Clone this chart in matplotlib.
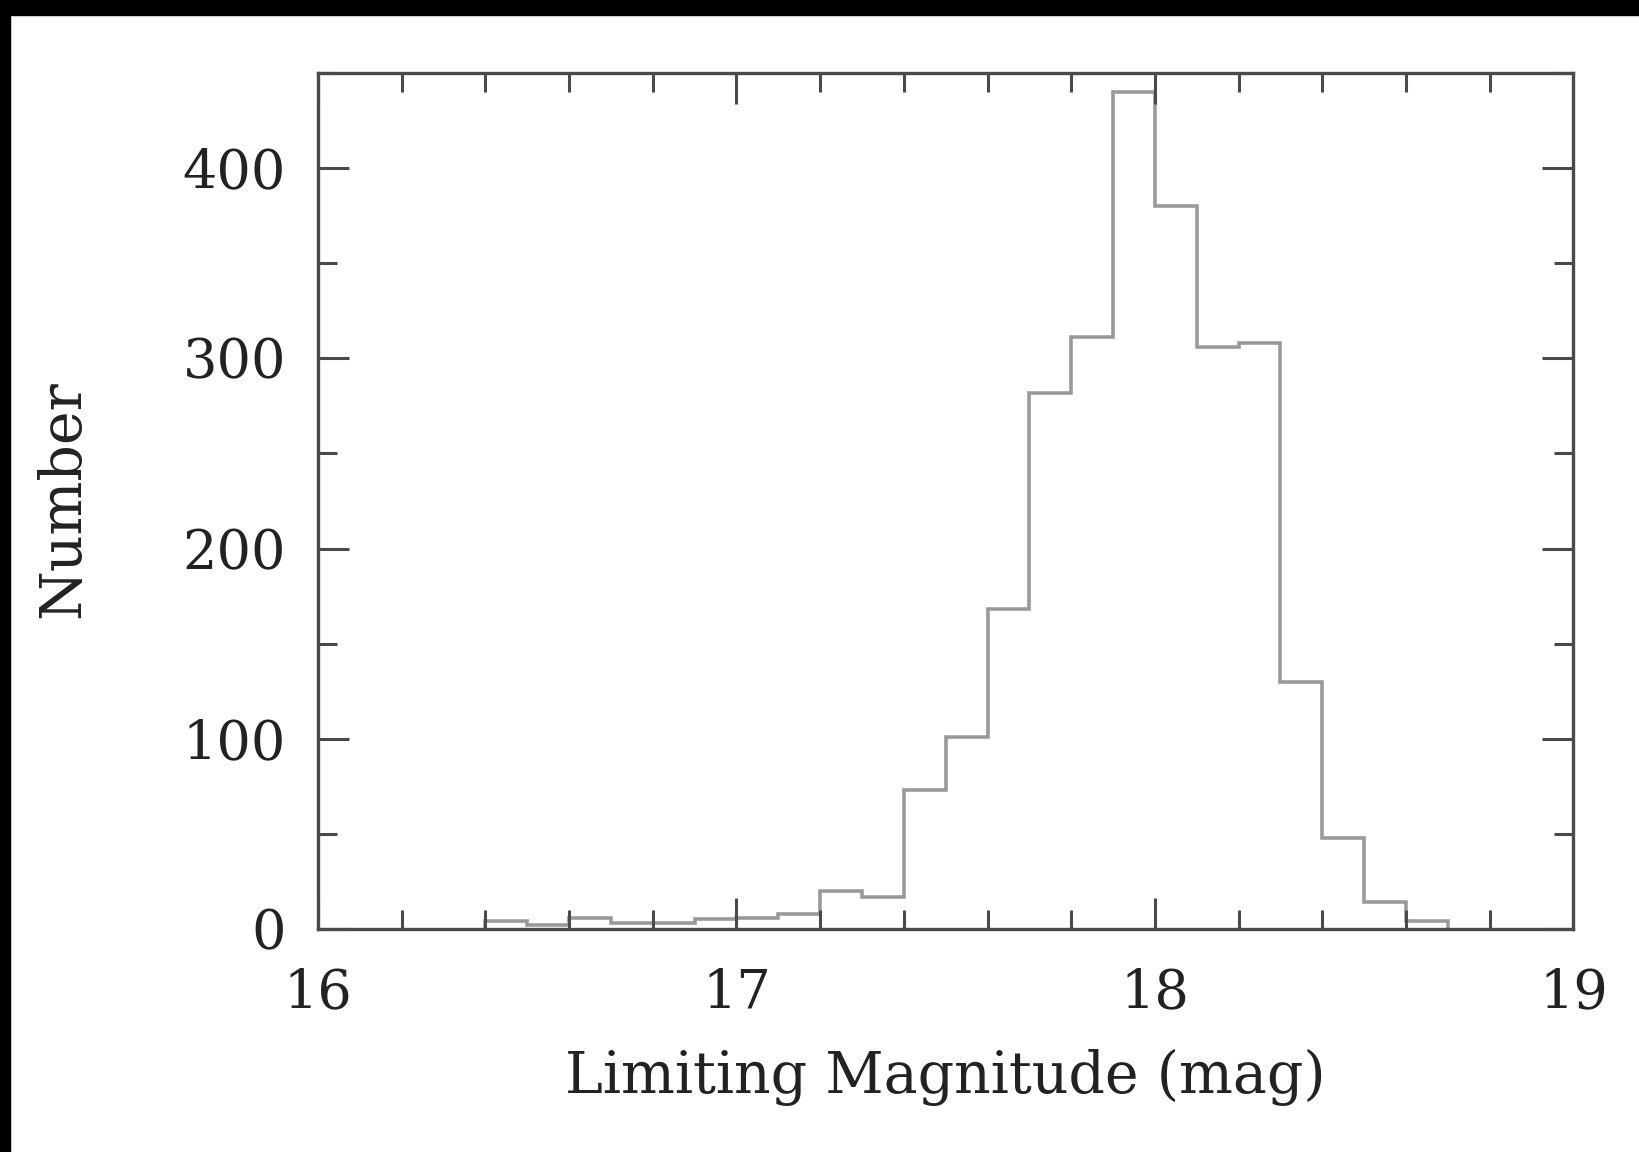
import numpy as np
import matplotlib
matplotlib.use('Agg')
import matplotlib.pyplot as plt
from matplotlib.patches import Rectangle
from matplotlib.ticker import MultipleLocator

bin_start = 16.4
bin_width = 0.1
counts = [4, 2, 6, 3, 3, 5, 6, 8, 20, 17, 73, 101, 168, 282, 311,
          440, 380, 306, 308, 130, 48, 14, 4]
edges = np.round(bin_start + bin_width*np.arange(len(counts)+1), 2)

xticks = [16, 17, 18, 19]
yticks = [0, 100, 200, 300, 400]

axcol = '#4a4a4a'
histcol = '#9a9a9a'
txtcol = '#222222'

fig = plt.figure(figsize=(16.39, 11.52), dpi=100)
ax = fig.add_axes([0.194, 0.1936, 0.766, 0.743])

ax.stairs(counts, edges, color=histcol, lw=2.6)

ax.set_xlim(16, 19)
ax.set_ylim(0, 450)
ax.set_xticks(xticks)
ax.set_yticks(yticks)
ax.xaxis.set_minor_locator(MultipleLocator(0.2))
ax.yaxis.set_minor_locator(MultipleLocator(50))

for s in ax.spines.values():
    s.set_color(axcol)
    s.set_linewidth(2.4)

ax.tick_params(which='both', direction='in', top=True, right=True,
               color=axcol, width=2.2)
ax.tick_params(which='major', length=22, labelsize=39)
ax.tick_params(which='minor', length=14)
ax.tick_params(axis='y', which='major', pad=23)
ax.tick_params(axis='x', which='major', pad=28)
for lab in ax.get_xticklabels() + ax.get_yticklabels():
    lab.set_family('DejaVu Serif')
    lab.set_color(txtcol)

ax.set_xlabel('Limiting Magnitude (mag)', fontsize=41, family='DejaVu Serif', color=txtcol)
ax.set_ylabel('Number', fontsize=41, family='DejaVu Serif', color=txtcol)
ax.xaxis.set_label_coords(0.50, -0.173)
ax.xaxis.label.set_va('center')
ax.yaxis.set_label_coords(-0.203, 0.502)
ax.yaxis.label.set_va('center')

# Borde negro arriba y a la izquierda (escaneo)
fig.patches.append(Rectangle((0, 1-15/1152), 1, 15/1152, transform=fig.transFigure,
                             color='black', zorder=10))
fig.patches.append(Rectangle((0, 0), 10/1639, 1, transform=fig.transFigure,
                             color='black', zorder=10))

fig.savefig('out.png', dpi=100)
